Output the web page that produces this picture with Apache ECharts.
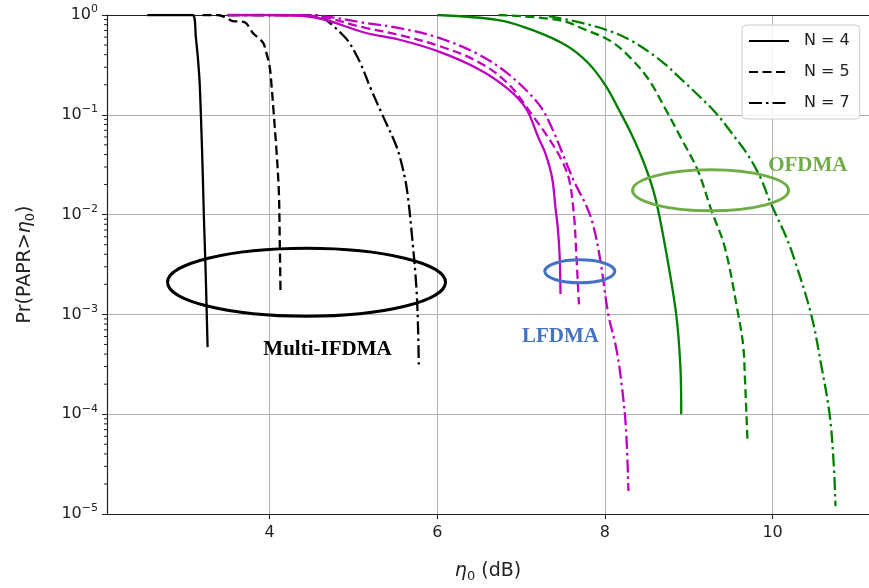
<!DOCTYPE html>
<html><head><meta charset="utf-8">
<script src="https://cdn.jsdelivr.net/npm/echarts@6/dist/echarts.min.js"></script>
<style>html,body{margin:0;padding:0;background:#fff}#c{width:869px;height:588px}</style>
</head><body><div id="c"></div><script>
// ---- data (x = eta0 in dB, y = Pr(PAPR > eta0)) ----
const X_MIN = 2.06, X_MAX = 11.15;
const xTicks = [4, 6, 8, 10];
const legendNames = ['N = 4', 'N = 5', 'N = 7'];

const ifdmaN4 = [[2.54,1],[3.08,1],[3.12,0.6],[3.16,0.25],[3.18,0.1],[3.2,0.03],[3.215,0.01],[3.235,0.003],[3.25,0.001],[3.26,4.7e-4]];
const ifdmaN5 = [[3.2,1],[3.38,1],[3.49,0.93],[3.56,0.87],[3.70,0.85],[3.80,0.66],[3.92,0.53],[3.96,0.42],[4.0,0.305],[4.02,0.21],[4.05,0.1],[4.08,0.046],[4.11,0.017],[4.12,0.006],[4.13,0.0016]];
const ifdmaN7 = [[3.5,1],[4.51,1],[4.87,0.634],[5.05,0.375],[5.21,0.18],[5.34,0.102],[5.51,0.049],[5.58,0.031],[5.64,0.0173],[5.70,0.0059],[5.75,0.0019],[5.77,7.6e-4],[5.78,2.85e-4]];

const lfdmaN4 = [[3.5,1],[4.0,1],[4.51,0.955],[5.15,0.66],[5.55,0.565],[6.02,0.43],[6.5,0.285],[6.85,0.18],[7.06,0.115],[7.21,0.058],[7.29,0.041],[7.37,0.0233],[7.41,0.0117],[7.44,0.007],[7.46,0.0038],[7.47,0.0016]];
const lfdmaN5 = [[3.5,1],[4.0,1],[4.51,0.98],[5.15,0.74],[5.55,0.63],[6.02,0.49],[6.5,0.335],[6.85,0.203],[7.13,0.1],[7.33,0.058],[7.47,0.037],[7.57,0.023],[7.63,0.01],[7.66,0.0038],[7.69,0.00126]];
const lfdmaN7 = [[3.5,1],[4.0,1],[4.51,0.99],[5.15,0.83],[5.55,0.74],[6.02,0.59],[6.5,0.40],[6.85,0.255],[7.21,0.128],[7.37,0.073],[7.51,0.038],[7.64,0.0207],[7.76,0.0132],[7.85,0.0084],[7.94,0.0037],[8.04,0.001],[8.13,4.8e-4],[8.19,2.3e-4],[8.25,7.4e-5],[8.28,1.7e-5]];

const ofdmaN4 = [[6.0,1],[6.73,0.89],[7.13,0.71],[7.53,0.50],[7.80,0.33],[8.01,0.195],[8.16,0.115],[8.32,0.063],[8.48,0.0305],[8.60,0.0148],[8.72,0.0047],[8.85,0.001],[8.90,3e-4],[8.91,1e-4]];
const ofdmaN5 = [[6.73,1],[7.45,0.89],[7.77,0.71],[8.08,0.54],[8.32,0.36],[8.52,0.227],[8.72,0.115],[8.91,0.058],[9.11,0.0274],[9.27,0.011],[9.43,0.0047],[9.59,0.001],[9.65,4.8e-4],[9.67,2.3e-4],[9.70,5.5e-5]];
const ofdmaN7 = [[7.33,0.977],[7.77,0.815],[8.08,0.68],[8.32,0.55],[8.52,0.43],[8.72,0.32],[8.91,0.227],[9.11,0.158],[9.32,0.105],[9.51,0.066],[9.71,0.039],[9.86,0.023],[9.95,0.0148],[10.04,0.01],[10.14,0.0066],[10.24,0.004],[10.46,0.001],[10.58,3.1e-4],[10.68,1e-4],[10.73,3.1e-5],[10.75,1.2e-5]];

// annotation labels (data coordinates)
const annotations = [
  {text:'Multi-IFDMA', color:'#000000', ellipse:[4.44, 2.1e-3], label:[4.69, 4.4e-4], r:[139, 34]},
  {text:'LFDMA', color:'#4472C4', ellipse:[7.70, 2.7e-3], label:[7.47, 6.0e-4], r:[35, 11.5]},
  {text:'OFDMA', color:'#70AD47', ellipse:[9.26, 0.0175], label:[10.42, 0.031], r:[78, 20.5]}
];

// ---- styles ----
const DASH = {solid:'solid', dashed:[9,4.5], dashdot:[13,4,2.5,4]};
function mk(name, data, color, dash){
  return {name, type:'line', data, symbol:'none', smooth:0.35, z:3,
    lineStyle:{color, width:2.3, type:DASH[dash]}, itemStyle:{color}};
}
const BLACK='#000000', MAG='#c000c0', GRN='#008000';
const minorTicks=[]; for(let e=-5;e<0;e++) for(let m=2;m<=9;m++) minorTicks.push(m*Math.pow(10,e));

const chart = echarts.init(document.getElementById('c'), null, {renderer:'canvas'});
const FONT = 'DejaVu Sans';
const axisNameRich = {i:{fontFamily:FONT, fontStyle:'italic', fontSize:19, lineHeight:24, color:'#222'}, sub:{fontFamily:FONT, fontSize:13, verticalAlign:'bottom', lineHeight:20, color:'#222'}};
const option = {
  animation:false,
  backgroundColor:'#ffffff',
  grid:{left:107, top:15, right:-3, bottom:68, show:false},
  legend:{
    data:legendNames, orient:'vertical', left:742, top:25,
    padding:[8,10,8,6], itemWidth:40, itemHeight:14, itemGap:15,
    backgroundColor:'rgba(255,255,255,0.85)', borderColor:'#cccccc', borderWidth:1, borderRadius:4,
    itemStyle:{opacity:0},
    textStyle:{fontFamily:FONT, fontSize:16, color:'#222', padding:[0,0,0,10]}
  },
  xAxis:[{
    type:'value', min:X_MIN, max:X_MAX,
    name:'{i|η}{sub|0} (dB)', nameLocation:'middle', nameGap:45,
    nameTextStyle:{fontFamily:FONT, fontSize:19, color:'#222', rich:axisNameRich},
    axisLine:{show:true, lineStyle:{color:'#222', width:1.2}},
    axisTick:{show:true, inside:false, length:5, customValues:xTicks, lineStyle:{color:'#222', width:1}},
    axisLabel:{customValues:xTicks, margin:11, fontFamily:FONT, fontSize:16, color:'#222'},
    splitLine:{show:true, lineStyle:{color:'#b0b0b0', width:1}}
  },{
    type:'value', position:'top', min:X_MIN, max:X_MAX,
    axisLine:{show:true, lineStyle:{color:'#222', width:1.2}},
    axisTick:{show:false}, axisLabel:{show:false}, splitLine:{show:false}
  }],
  yAxis:{
    type:'log', logBase:10, min:1e-5, max:1,
    name:'Pr(PAPR>{i|η}{sub|0})', nameLocation:'middle', nameRotate:90, nameGap:70,
    nameTextStyle:{fontFamily:FONT, fontSize:19, color:'#222', rich:axisNameRich},
    axisLine:{show:true, lineStyle:{color:'#222', width:1.2}},
    axisTick:{show:true, inside:false, length:5, lineStyle:{color:'#222', width:1}},
    axisLabel:{margin:9, color:'#222',
      formatter:function(v){const e=Math.round(Math.log10(v)); return '{b|10}{s|'+(e===0?'0':'\u2212'+(-e))+'}';},
      rich:{b:{fontFamily:FONT, fontSize:16, lineHeight:22, color:'#222'}, s:{fontFamily:FONT, fontSize:11, lineHeight:14, verticalAlign:'top', color:'#222'}}},
    splitLine:{show:true, lineStyle:{color:'#b0b0b0', width:1}}
  },
  series:[
    mk('N = 4', ifdmaN4, BLACK, 'solid'),
    mk('N = 5', ifdmaN5, BLACK, 'dashed'),
    mk('N = 7', ifdmaN7, BLACK, 'dashdot'),
    mk('LFDMA N=4', lfdmaN4, MAG, 'solid'),
    mk('LFDMA N=5', lfdmaN5, MAG, 'dashed'),
    mk('LFDMA N=7', lfdmaN7, MAG, 'dashdot'),
    mk('OFDMA N=4', ofdmaN4, GRN, 'solid'),
    mk('OFDMA N=5', ofdmaN5, GRN, 'dashed'),
    mk('OFDMA N=7', ofdmaN7, GRN, 'dashdot'),
    {name:'minor', type:'custom', silent:true, clip:false, z:6,
      renderItem:function(p, api){const pt=api.coord([X_MIN, api.value(1)]);
        return {type:'line', shape:{x1:pt[0]-3, y1:pt[1], x2:pt[0], y2:pt[1]}, style:{stroke:'#222', lineWidth:1}};},
      data:minorTicks.map(v=>[X_MIN, v])}
  ]
};
chart.setOption(option);

const g = [];
annotations.forEach(a=>{
  const c = chart.convertToPixel({gridIndex:0}, a.ellipse);
  const t = chart.convertToPixel({gridIndex:0}, a.label);
  g.push({type:'ellipse', z:10, shape:{cx:c[0], cy:c[1], rx:a.r[0], ry:a.r[1]}, style:{fill:'none', stroke:a.color, lineWidth:3}});
  g.push({type:'text', z:10, x:t[0], y:t[1], style:{text:a.text, fill:a.color, font:'bold 21px "Liberation Serif", "Times New Roman", serif', align:'center', verticalAlign:'middle'}});
});
chart.setOption({graphic:g});
</script></body></html>
